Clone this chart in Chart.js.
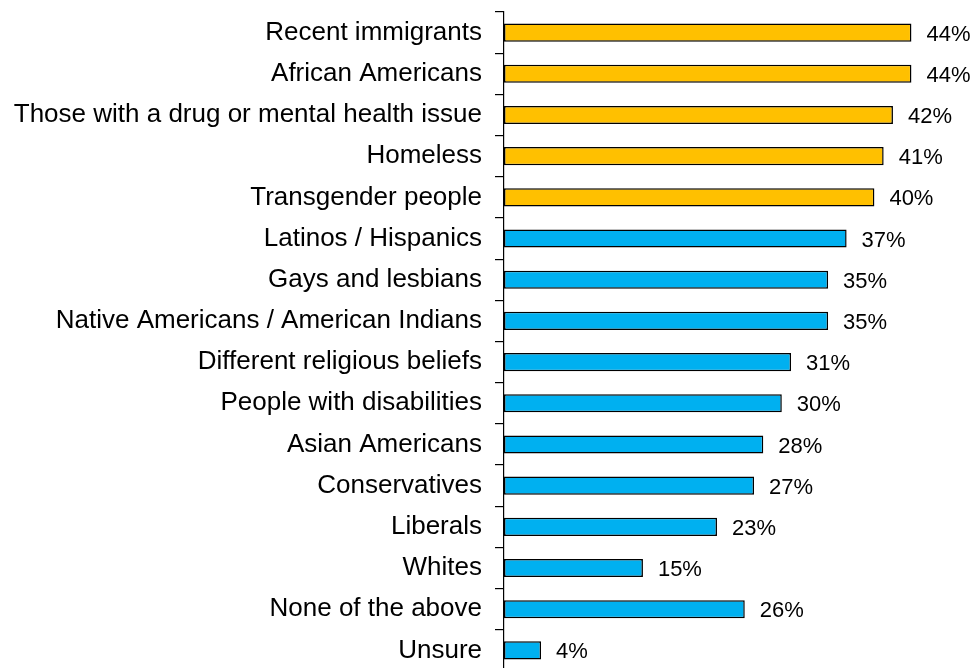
<!DOCTYPE html>
<html>
<head>
<meta charset="utf-8">
<script src="https://cdn.jsdelivr.net/npm/chart.js@4.4.1/dist/chart.umd.min.js"></script>
<style>
  html, body { margin: 0; padding: 0; background: #fff; overflow: hidden; }
  #wrap { position: relative; width: 974px; height: 671px; }
</style>
</head>
<body>
<div id="wrap"><canvas id="chart"></canvas></div>
<script>
// ====== DATA ======
const categories = [
  "Recent immigrants",
  "African Americans",
  "Those with a drug or mental health issue",
  "Homeless",
  "Transgender people",
  "Latinos / Hispanics",
  "Gays and lesbians",
  "Native Americans / American Indians",
  "Different religious beliefs",
  "People with disabilities",
  "Asian Americans",
  "Conservatives",
  "Liberals",
  "Whites",
  "None of the above",
  "Unsure"
];
const values = [44, 44, 42, 41, 40, 37, 35, 35, 31, 30, 28, 27, 23, 15, 26, 4];
// top five rows are highlighted
const highlightCount = 5;

const ORANGE = "#FFC000";
const BLUE = "#00B0F0";

// ====== VALUE LABELS PLUGIN ======
const valueLabels = {
  id: "valueLabels",
  afterDatasetsDraw(chart) {
    const ctx = chart.ctx;
    const meta = chart.getDatasetMeta(0);
    ctx.save();
    ctx.font = "22px 'Liberation Sans', Arial, sans-serif";
    ctx.fillStyle = "#000";
    ctx.textAlign = "left";
    ctx.textBaseline = "middle";
    meta.data.forEach((bar, i) => {
      ctx.fillText(values[i] + "%", bar.x + 15, bar.y + 2);
    });
    ctx.restore();
  }
};

// ====== CHART ======
const ctx = document.getElementById("chart").getContext("2d");
new Chart(ctx, {
  type: "bar",
  data: {
    labels: categories,
    datasets: [{
      data: values,
      backgroundColor: values.map((v, i) => i < highlightCount ? ORANGE : BLUE),
      borderColor: "#000",
      borderWidth: 1.5,
      borderSkipped: false,
      categoryPercentage: 1,
      barPercentage: 0.44
    }]
  },
  options: {
    indexAxis: "y",
    responsive: true,
    maintainAspectRatio: false,
    animation: false,
    layout: { padding: { top: 12, right: 7, bottom: 0, left: 0 } },
    plugins: {
      legend: { display: false },
      tooltip: { enabled: false }
    },
    scales: {
      x: {
        display: false,
        min: 0,
        max: 50
      },
      y: {
        afterFit(scale) {
          // fixed axis width, and no extra room for the first/last label
          scale.width = 504;
          scale.paddingTop = 0;
          scale.paddingBottom = 0;
        },
        border: { display: true, color: "#000", width: 1.2 },
        grid: {
          drawOnChartArea: false,
          drawTicks: true,
          tickLength: 9,
          color: "#000",
          lineWidth: 1.2,
          offset: true
        },
        ticks: {
          padding: 13,
          color: "#000",
          font: { family: "'Liberation Sans', Arial, sans-serif", size: 26 }
        }
      }
    }
  },
  plugins: [valueLabels]
});
</script>
</body>
</html>
